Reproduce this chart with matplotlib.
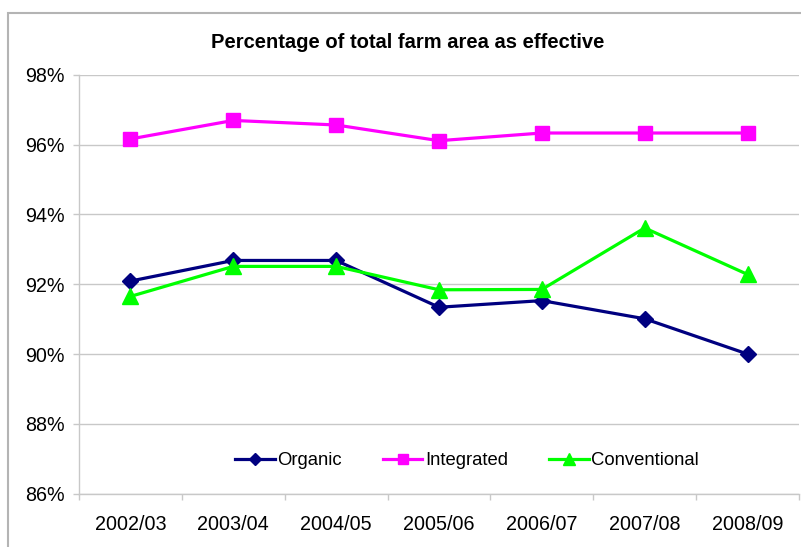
"""Effective share of total farm area by farming system, 2002/03 to 2008/09."""
import matplotlib
matplotlib.use("Agg")
import matplotlib.pyplot as plt
from matplotlib.patches import Rectangle
from matplotlib.ticker import FuncFormatter, FixedLocator

plt.rcParams["font.family"] = ["Liberation Sans", "DejaVu Sans"]

YEARS = ["2002/03", "2003/04", "2004/05", "2005/06", "2006/07", "2007/08", "2008/09"]
ORGANIC = [92.09, 92.68, 92.68, 91.34, 91.53, 91.01, 90.00]
INTEGRATED = [96.16, 96.69, 96.56, 96.11, 96.33, 96.33, 96.33]
CONVENTIONAL = [91.65, 92.51, 92.51, 91.84, 91.85, 93.61, 92.28]

GRID = "#c8c8c8"

fig = plt.figure(figsize=(8.01, 5.47), dpi=100)
fig.patch.set_facecolor("white")

# chart-area border (runs off the right and bottom edges)
fig.patches.append(Rectangle((8 / 801, -0.05), 1.2, 1 - 13 / 547 + 0.05,
                             transform=fig.transFigure, fill=False,
                             edgecolor="#b4b4b4", linewidth=1.5))

ax = fig.add_axes([79 / 801, 1 - 493.7 / 547, 720 / 801, (493.7 - 74.7) / 547])
x = list(range(len(YEARS)))

ax.plot(x, ORGANIC, color="#000080", linewidth=2.3, marker="D", markersize=8,
        label="Organic", zorder=3)
ax.plot(x, INTEGRATED, color="#ff00ff", linewidth=2.3, marker="s", markersize=10,
        label="Integrated", zorder=3)
ax.plot(x, CONVENTIONAL, color="#00ff00", linewidth=2.3, marker="^", markersize=11,
        label="Conventional", zorder=3)

ax.set_xlim(-0.5, len(YEARS) - 0.5)
ax.set_ylim(86, 98)
ax.set_yticks(range(86, 99, 2))
ax.yaxis.set_major_formatter(FuncFormatter(lambda v, _: f"{v:.0f}%"))
ax.yaxis.grid(True, color=GRID, linewidth=1.0)
ax.set_axisbelow(True)

ax.set_xticks(x)
ax.set_xticklabels(YEARS)
ax.xaxis.set_minor_locator(FixedLocator([i - 0.5 for i in range(len(YEARS) + 1)]))
ax.tick_params(axis="x", which="major", length=0, pad=15, labelsize=14.2)
ax.tick_params(axis="x", which="minor", length=4.5, color=GRID, width=1.0)
ax.tick_params(axis="y", length=4.5, color=GRID, width=1.0, pad=6, labelsize=14.2)

for side in ("top", "right"):
    ax.spines[side].set_visible(False)
for side in ("left", "bottom"):
    ax.spines[side].set_color(GRID)
    ax.spines[side].set_linewidth(1.0)

fig.text(408 / 801, 1 - 42 / 547, "Percentage of total farm area as effective",
         ha="center", va="center", fontsize=14.5, fontweight="bold")

fig.legend(loc="center", bbox_to_anchor=(467 / 801, 1 - 460.5 / 547), ncol=3,
           frameon=False, fontsize=13.3, handlelength=2.15, handletextpad=0.15,
           columnspacing=2.2, markerscale=0.75)

fig.savefig("out.png", dpi=100)
